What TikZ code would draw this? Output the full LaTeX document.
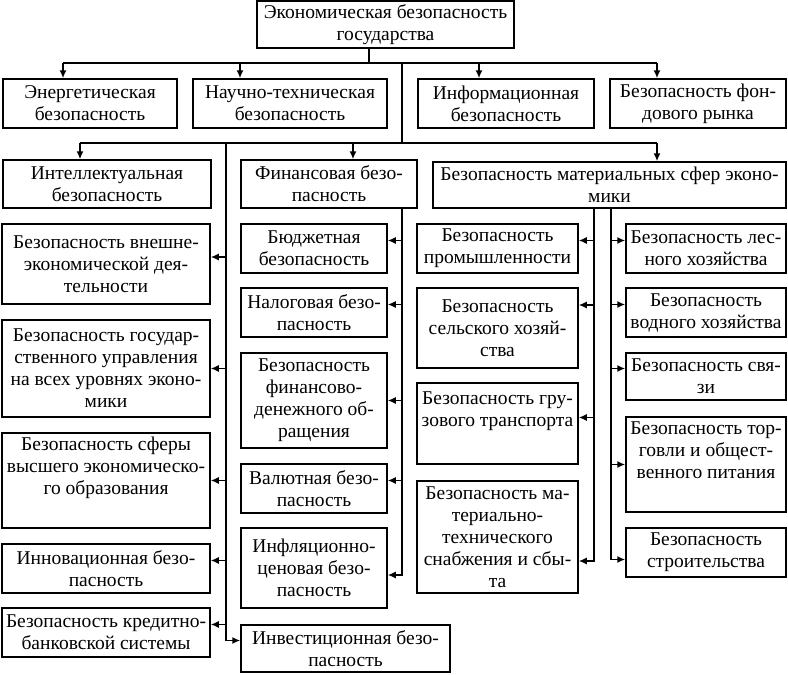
\documentclass[tikz,border=0pt]{standalone}
\usepackage{fontspec}
\setmainfont{Liberation Serif}
\usetikzlibrary{arrows.meta}

\begin{document}
\begin{tikzpicture}[x=1pt,y=-1pt,
	blk/.style={draw, line width=1.5pt, align=center, inner xsep=1pt, inner ysep=1pt,
		font=\fontsize{19.5}{22}\selectfont},
	lnk/.style={line width=1.5pt},
	arr/.style={lnk, -{Latex[length=8pt,width=7pt]}}]
	\useasboundingbox (0,0) rectangle (788,675);
	%% top
	\node[blk, minimum width=257pt, minimum height=47pt] (gos) at (385.5,24.5) {Экономическая безопасность\\государства};
	% first row
	\node[blk, minimum width=174pt, minimum height=49pt] (energ) at (90,103.5) {Энергетическая\\безопасность};
	\node[blk, minimum width=194pt, minimum height=49pt] (nauch) at (290,103.5) {Научно-техническая\\безопасность};
	\node[blk, minimum width=176pt, minimum height=49pt] (inform) at (506,103.5) {Информационная\\безопасность};
	\node[blk, minimum width=176pt, minimum height=49pt] (fond) at (698,103.5) {Безопасность фон-\\дового рынка};
	% second row
	\node[blk, minimum width=208pt, minimum height=48pt] (intel) at (107,184) {Интеллектуальная\\безопасность};
	\node[blk, minimum width=176pt, minimum height=48pt] (fin) at (329,184) {Финансовая безо-\\пасность};
	\node[blk, minimum width=353pt, minimum height=46pt] (mat) at (609.5,185) {Безопасность материальных сфер эконо-\\мики};
	%% left column
	\node[blk, minimum width=208pt, minimum height=80pt] (vne) at (106,264) {Безопасность внешне-\\экономической дея-\\тельности};
	\node[blk, minimum width=208pt, minimum height=97pt] (upr) at (106,368.5) {Безопасность государ-\\ственного управления\\на всех уровнях эконо-\\мики};
	\node[blk, minimum width=208pt, minimum height=95pt] (obr) at (106,480.5) {Безопасность сферы\\высшего экономическо-\\го образования\\ \strut};
	\node[blk, minimum width=208pt, minimum height=49pt] (inn) at (106,568.5) {Инновационная безо-\\пасность};
	\node[blk, minimum width=208pt, minimum height=49pt] (kred) at (106,632.5) {Безопасность кредитно-\\банковской системы};
	\node[blk, minimum width=209pt, minimum height=47pt] (inv) at (345.5,648.5) {Инвестиционная безо-\\пасность};
	%% finance column
	\node[blk, minimum width=146pt, minimum height=49pt] (bud) at (314,248.5) {Бюджетная\\безопасность};
	\node[blk, minimum width=146pt, minimum height=49pt] (nal) at (314,312.5) {Налоговая безо-\\пасность};
	\node[blk, minimum width=146pt, minimum height=95pt] (fdo) at (314,400.5) {Безопасность\\финансово-\\денежного об-\\ращения};
	\node[blk, minimum width=146pt, minimum height=49pt] (val) at (314,488.5) {Валютная безо-\\пасность};
	\node[blk, minimum width=146pt, minimum height=80pt] (infl) at (314,568) {Инфляционно-\\ценовая безо-\\пасность};
	%% material spheres
	\node[blk, minimum width=161pt, minimum height=49pt] (prom) at (497.5,248.5) {Безопасность\\промышленности};
	\node[blk, minimum width=161pt, minimum height=80pt] (selh) at (497.5,328) {Безопасность\\сельского хозяй-\\ства};
	\node[blk, minimum width=161pt, minimum height=81pt] (gruz) at (497.5,423.5) {Безопасность гру-\\зового транспорта\\ \strut};
	\node[blk, minimum width=161pt, minimum height=112pt] (mto) at (497.5,537) {Безопасность ма-\\териально-\\технического\\снабжения и сбы-\\та};
	\node[blk, minimum width=160pt, minimum height=49pt] (les) at (706,248.5) {Безопасность лес-\\ного хозяйства};
	\node[blk, minimum width=160pt, minimum height=49pt] (vod) at (706,312.5) {Безопасность\\водного хозяйства};
	\node[blk, minimum width=160pt, minimum height=47pt] (svz) at (706,376.5) {Безопасность свя-\\зи};
	\node[blk, minimum width=160pt, minimum height=95pt] (torg) at (706,464.5) {Безопасность тор-\\говли и общест-\\венного питания\\ \strut};
	\node[blk, minimum width=160pt, minimum height=49pt] (stroi) at (706,552.5) {Безопасность\\строительства};
	%% connectors
	\coordinate (b1) at (369,63);
	\coordinate (b2) at (402,143);
	\coordinate (lt) at (226,143);
	\coordinate (m1) at (594,208);
	\coordinate (m2) at (611,208);
	\draw[lnk] (gos.south -| b1) -- (b1);
	\draw[lnk] ([xshift=-27pt]energ.north |- b1) -- ([xshift=-41pt]fond.north |- b1);
	\foreach \n/\d in {energ/-27, nauch/-50, inform/-27, fond/-41}
		\draw[arr] ([xshift=\d pt]\n.north |- b1) -- ([xshift=\d pt]\n.north);
	\draw[lnk] (b1 -| b2) -- (b2);
	\draw[lnk] ([xshift=-27pt]intel.north |- b2) -- ([xshift=47.5pt]mat.north |- b2);
	\foreach \n/\d in {intel/-27, fin/24, mat/47.5}
		\draw[arr] ([xshift=\d pt]\n.north |- b2) -- ([xshift=\d pt]\n.north);
	% left trunk
	\draw[arr] (lt) |- ([yshift=8pt]inv.west);
	\foreach \n/\d in {vne/7, upr/0, obr/0, inn/8, kred/8}
		\draw[arr] ([yshift=\d pt]\n.east -| lt) -- ([yshift=\d pt]\n.east);
	% finance trunk
	\draw[arr] (fin.south -| b2) |- ([yshift=-7pt]infl.east);
	\foreach \n/\d in {bud/8, nal/8, fdo/0, val/8}
		\draw[arr] ([yshift=\d pt]\n.east -| b2) -- ([yshift=\d pt]\n.east);
	% material trunks
	\draw[arr] (m1) |- ([yshift=-24pt]mto.east);
	\foreach \n/\d in {prom/8, selh/23, gruz/6}
		\draw[arr] ([yshift=\d pt]\n.east -| m1) -- ([yshift=\d pt]\n.east);
	\draw[arr] (m2) |- ([yshift=-7pt]stroi.west);
	\foreach \n/\d in {les/8, vod/8, svz/8, torg/0}
		\draw[arr] ([yshift=\d pt]\n.west -| m2) -- ([yshift=\d pt]\n.west);
\end{tikzpicture}
\end{document}
